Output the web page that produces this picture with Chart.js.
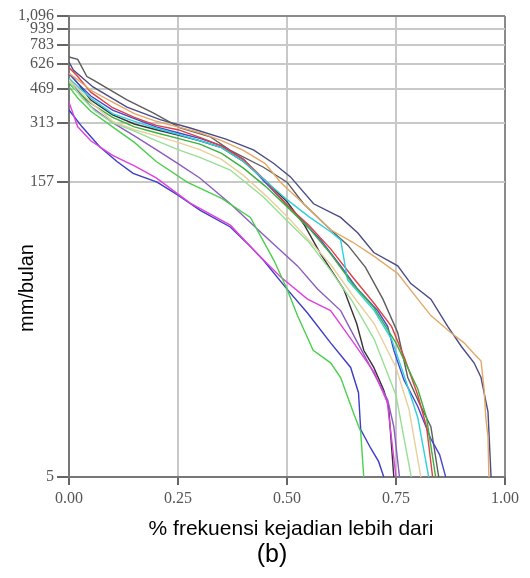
<!DOCTYPE html>
<html>
<head>
<meta charset="utf-8">
<script src="https://cdn.jsdelivr.net/npm/chart.js@4.4.1/dist/chart.umd.min.js"></script>
<style>
  html, body { margin: 0; padding: 0; background: #fff; }
  #wrap { width: 530px; height: 578px; }
</style>
</head>
<body>
<div id="wrap"><canvas id="fdc" width="530" height="578"></canvas></div>
<script>
// tick values / labels
const yTicks = [5, 157, 313, 469, 626, 783, 939, 1096];
const yTickLabels = ['5', '157', '313', '469', '626', '783', '939', '1,096'];
const xTicks = [0, 0.25, 0.5, 0.75, 1];
const xTickLabels = ['0.00', '0.25', '0.50', '0.75', '1.00'];

// flow duration curves: [fraction exceeded, mm/bulan]
const lightGreen = [[0,510],[0.03,420],[0.06,360],[0.1,315],[0.15,285],[0.2,255],[0.25,230],[0.3,210],[0.37,181],[0.446,132],[0.5,100],[0.55,78],[0.6,56],[0.65,39],[0.7,25],[0.75,13],[0.785,5]];
const lightTan = [[0,520],[0.05,400],[0.1,320],[0.15,290],[0.2,270],[0.25,250],[0.3,230],[0.35,205],[0.4,170],[0.45,135],[0.5,105],[0.55,80],[0.6,60],[0.65,42],[0.7,30],[0.75,18],[0.78,11],[0.807,5]];
const tan = [[0,560],[0.02,520],[0.05,460],[0.1,400],[0.15,350],[0.2,320],[0.25,300],[0.3,280],[0.35,255],[0.4,228],[0.45,195],[0.485,157],[0.55,115],[0.6,90],[0.65,78],[0.7,66],[0.754,54],[0.8,40],[0.83,33],[0.876,27],[0.906,24],[0.93,21],[0.945,19.4],[0.952,14],[0.956,10],[0.961,8],[0.963,5]];
const greenLow = [[0,480],[0.02,420],[0.05,360],[0.1,300],[0.15,250],[0.2,200],[0.271,157],[0.35,130],[0.416,104],[0.47,63],[0.5,45],[0.524,33],[0.56,22],[0.6,19],[0.623,16],[0.653,10.5],[0.669,8.5],[0.676,5]];
const green = [[0,500],[0.02,450],[0.05,395],[0.1,335],[0.15,300],[0.2,280],[0.25,262],[0.3,245],[0.35,220],[0.4,185],[0.45,150],[0.5,118],[0.55,92],[0.6,68],[0.65,48],[0.7,36],[0.75,24],[0.8,14],[0.82,10],[0.841,5]];
const cyan = [[0,530],[0.02,480],[0.05,420],[0.1,350],[0.15,320],[0.2,295],[0.25,275],[0.3,255],[0.35,235],[0.4,200],[0.45,160],[0.5,128],[0.55,105],[0.6,88],[0.623,80],[0.639,50],[0.7,35],[0.74,25],[0.77,16],[0.8,10],[0.825,5]];
const red = [[0,600],[0.02,540],[0.05,450],[0.1,375],[0.15,335],[0.2,305],[0.25,290],[0.3,265],[0.35,240],[0.4,205],[0.45,160],[0.5,120],[0.55,95],[0.6,72],[0.65,52],[0.7,38],[0.74,29],[0.77,20],[0.8,13],[0.82,9],[0.834,5]];
const magenta = [[0,400],[0.02,300],[0.05,255],[0.1,215],[0.15,190],[0.2,165],[0.278,123],[0.37,95],[0.432,68],[0.485,52],[0.547,40],[0.6,35],[0.653,24],[0.7,17],[0.73,12],[0.75,5]];
const purple = [[0,530],[0.02,460],[0.05,380],[0.1,315],[0.15,270],[0.2,230],[0.25,195],[0.3,165],[0.37,122],[0.446,85],[0.524,59],[0.57,45],[0.623,35],[0.662,24],[0.692,18],[0.731,12.3],[0.745,9],[0.758,5]];
const blueLow = [[0,365],[0.03,300],[0.071,237],[0.11,200],[0.147,174],[0.202,157],[0.25,135],[0.301,113],[0.37,93],[0.416,74],[0.446,63],[0.5,45],[0.547,34],[0.6,24],[0.646,18],[0.664,13.4],[0.669,8.7],[0.692,7],[0.71,6],[0.722,5]];
const blue = [[0,560],[0.02,500],[0.05,430],[0.1,365],[0.15,330],[0.2,300],[0.25,280],[0.3,262],[0.35,240],[0.4,205],[0.446,160],[0.524,106],[0.577,80],[0.623,59],[0.662,45],[0.708,35],[0.731,29],[0.745,22],[0.768,15.6],[0.8,11.4],[0.83,7.8],[0.85,6.5],[0.864,5]];
const black = [[0,560],[0.02,500],[0.05,410],[0.1,345],[0.15,310],[0.2,290],[0.25,272],[0.3,255],[0.35,235],[0.4,200],[0.45,160],[0.5,125],[0.54,95],[0.577,68],[0.63,45],[0.66,30],[0.676,22],[0.699,18],[0.722,13.8],[0.733,11.4],[0.745,5]];
const darkGray = [[0,679],[0.02,660],[0.041,540],[0.055,519],[0.133,411],[0.193,353],[0.255,296],[0.324,267],[0.37,228],[0.446,187],[0.5,157],[0.538,122],[0.6,90],[0.64,75],[0.68,58],[0.72,40],[0.754,27],[0.777,16],[0.807,11.4],[0.83,9],[0.848,5]];
const navy = [[0,640],[0.01,583],[0.055,478],[0.133,378],[0.209,326],[0.278,296],[0.36,260],[0.423,229],[0.469,196],[0.508,167],[0.561,122],[0.623,104],[0.662,87],[0.699,69],[0.754,59],[0.784,48],[0.83,40],[0.869,29],[0.9,23],[0.929,19],[0.945,16],[0.961,10.7],[0.968,5]];

const series = [
    { pts: lightGreen, color: '#96e096' },
    { pts: lightTan, color: '#e8cf9c' },
    { pts: tan, color: '#e3a867' },
    { pts: greenLow, color: '#4ccf4c' },
    { pts: green, color: '#3caf3c' },
    { pts: cyan, color: '#2fd0dc' },
    { pts: red, color: '#e04040' },
    { pts: magenta, color: '#e040e0' },
    { pts: purple, color: '#8a5cc0' },
    { pts: blueLow, color: '#3c3cc8' },
    { pts: blue, color: '#4646d2' },
    { pts: black, color: '#333333' },
    { pts: darkGray, color: '#5c5c5c' },
    { pts: navy, color: '#4b4b85' }
];

const titles = {
    id: 'titles',
    afterDraw(chart) {
        const ctx = chart.ctx;
        ctx.save();
        ctx.fillStyle = '#000';
        ctx.textAlign = 'center';
        ctx.textBaseline = 'middle';
        ctx.font = '21px "Liberation Sans", Arial, sans-serif';
        ctx.fillText('% frekuensi kejadian lebih dari', 291, 529);
        ctx.font = '25px "Liberation Sans", Arial, sans-serif';
        ctx.fillText('(b)', 272, 555);
        ctx.translate(27, 288);
        ctx.rotate(-Math.PI / 2);
        ctx.font = '20px "Liberation Sans", Arial, sans-serif';
        ctx.fillText('mm/bulan', 0, 0);
        ctx.restore();
    }
};

const edge = (c, a, b) => (c.index === 0 || c.index === c.scale.ticks.length - 1) ? a : b;

new Chart(document.getElementById('fdc'), {
    type: 'line',
    data: {
        datasets: series.map(s => ({
            data: s.pts.map(([x, y]) => ({ x, y })),
            borderColor: s.color,
            borderWidth: 1.4,
            pointRadius: 0,
            tension: 0,
            fill: false
        }))
    },
    options: {
        responsive: false,
        animation: false,
        devicePixelRatio: 1,
        layout: { padding: { top: 16, right: 25, left: 0, bottom: 0 } },
        plugins: { legend: { display: false }, tooltip: { enabled: false } },
        scales: {
            x: {
                type: 'linear',
                min: 0,
                max: 1,
                afterBuildTicks: s => { s.ticks = xTicks.map(v => ({ value: v })); },
                afterFit: s => { s.height = 101; },
                ticks: {
                    autoSkip: false,
                    maxRotation: 0,
                    padding: 4,
                    color: '#555',
                    font: { family: '"Liberation Serif", "Times New Roman", serif', size: 16 },
                    callback: (v, i) => xTickLabels[i]
                },
                grid: {
                    color: c => edge(c, '#8a8a8a', '#c8c8c8'),
                    lineWidth: 2,
                    tickLength: 8,
                    tickColor: '#666'
                },
                border: { color: '#777', width: 2 }
            },
            y: {
                type: 'logarithmic',
                min: 5,
                max: 1096,
                afterBuildTicks: s => { s.ticks = yTicks.map(v => ({ value: v })); },
                afterFit: s => { s.width = 69; },
                ticks: {
                    autoSkip: false,
                    padding: 3,
                    color: '#555',
                    font: { family: '"Liberation Serif", "Times New Roman", serif', size: 16 },
                    callback: function (v) { return yTickLabels[yTicks.indexOf(v)]; }
                },
                grid: {
                    color: c => edge(c, '#8a8a8a', '#c8c8c8'),
                    lineWidth: 2,
                    tickLength: 12,
                    tickColor: '#666'
                },
                border: { color: '#777', width: 2 }
            }
        }
    },
    plugins: [titles]
});
</script>
</body>
</html>
